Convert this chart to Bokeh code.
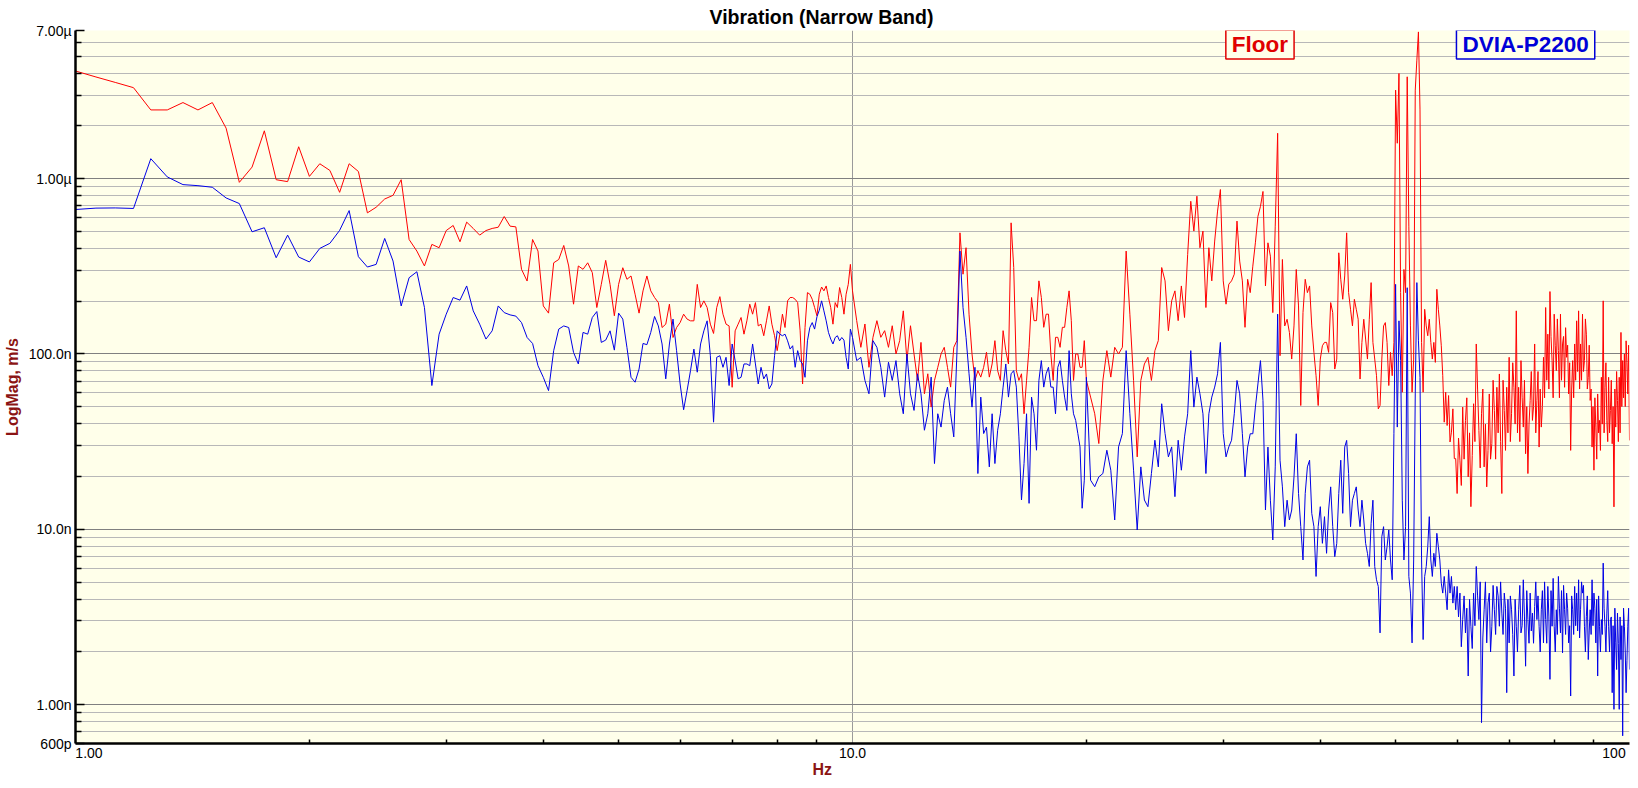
import json
import numpy as np
from bokeh.plotting import figure
from bokeh.models import Range1d, FixedTicker, CustomJSTickFormatter, Label, Title
from bokeh.embed import file_html
from bokeh.resources import INLINE

# ---------------- text ----------------
TITLE = "Vibration (Narrow Band)"
X_LABEL = "Hz"
Y_LABEL = "LogMag, m/s"
SERIES_NAMES = ["Floor", "DVIA-P2200"]

X_TICKS = [1.0, 10.0, 100.0]
X_TICK_LABELS = ["1.00", "10.0", "100"]
Y_TICKS = [6e-10, 1e-9, 1e-8, 1e-7, 1e-6, 7e-6]
Y_TICK_LABELS = ["600p", "1.00n", "10.0n", "100.0n", "1.00\u00b5", "7.00\u00b5"]

# ---------------- data ----------------
# frequency bins of each segment: start (Hz) and bin width (Hz)
SEG_START_HZ = [1.0, 10.125, 20.25, 60.25]
SEG_STEP_HZ = [0.0625, 0.125, 0.25, 0.25]

# magnitudes, as log10 of nm/s
floor_seg1 = [
    3.614, 3.580, 3.549, 3.519, 3.392, 3.392, 3.434, 3.392, 3.434, 3.288, 2.979, 3.066, 3.273, 2.994, 2.983, 3.182,
    3.013, 3.085, 3.047, 2.922, 3.085, 3.041, 2.805, 2.837, 2.884, 2.905, 2.994, 2.653, 2.587, 2.502, 2.625, 2.606,
    2.704, 2.733, 2.640, 2.752, 2.716, 2.678, 2.704, 2.716, 2.723, 2.784, 2.729, 2.725, 2.483, 2.416, 2.653, 2.587,
    2.274, 2.233, 2.520, 2.539, 2.619, 2.502, 2.284, 2.502, 2.483, 2.520, 2.464, 2.265, 2.397, 2.534, 2.397, 2.218,
    2.397, 2.492, 2.426, 2.445, 2.341, 2.233, 2.360, 2.445, 2.360, 2.322, 2.293, 2.151, 2.170, 2.284, 2.094, 2.151,
    2.179, 2.227, 2.199, 2.189, 2.189, 2.397, 2.265, 2.303, 2.265, 2.170, 2.117, 2.265, 2.327, 2.227, 2.170, 2.160,
    1.810, 2.132, 2.170, 2.208, 2.113, 2.189, 2.284, 2.227, 2.293, 2.160, 2.170, 2.104, 2.189, 2.274, 2.170, 2.104,
    2.019, 2.113, 2.227, 2.151, 2.303, 2.322, 2.322, 2.312, 2.293, 2.132, 1.829, 2.151, 2.350, 2.341, 2.312, 2.265,
    2.218, 2.341, 2.382, 2.360, 2.388, 2.322, 2.265, 2.170, 2.293, 2.265, 2.379, 2.322, 2.227, 2.341, 2.397, 2.511,
    2.360,
]
floor_seg2 = [
    2.190, 2.038, 2.171, 1.924, 2.095, 2.190, 2.095, 2.133,
    2.038, 2.161, 2.000, 2.076, 2.246, 1.962, 2.161, 2.000,
    1.849, 2.066, 1.773, 1.887, 1.697, 1.849, 1.924, 2.000,
    2.038, 1.924, 1.811, 2.038, 2.076, 2.691, 2.455, 2.606,
    2.227, 2.000, 1.849, 1.905, 1.868, 1.924, 2.010, 1.868,
    1.943, 2.076, 1.905, 1.849, 2.133, 2.019, 1.943, 2.748,
    2.493, 1.905, 1.849, 1.887, 1.659, 1.849, 2.038, 2.322,
    2.190, 2.190, 2.417, 2.322, 2.152, 2.227, 2.227, 2.000,
    1.849, 2.095, 2.095, 2.038, 2.152, 2.152, 2.265, 2.360,
    2.190, 1.849, 2.000, 2.000, 1.924, 1.924, 2.076, 1.849,
]
floor_seg3 = [
    1.754, 1.659, 1.489, 1.849, 2.019, 1.868, 2.038, 2.000,
    2.038, 2.587, 2.227, 1.849, 1.413, 1.849, 1.943, 1.981,
    1.849, 2.019, 2.076, 2.493, 2.417, 2.133, 2.303, 2.360,
    2.190, 2.388, 2.208, 2.568, 2.871, 2.701, 2.900, 2.606,
    2.701, 2.265, 2.606, 2.417, 2.644, 2.815, 2.938, 2.417,
    2.284, 2.398, 2.417, 2.455, 2.758, 2.530, 2.417, 2.152,
    2.426, 2.350, 2.501, 2.634, 2.785, 2.842, 2.927, 2.388,
    2.634, 2.558, 2.236, 2.729, 3.259, 1.990, 2.539, 2.160,
    2.198, 2.123, 1.971, 2.160, 2.482, 2.274, 1.706, 2.236,
    2.426, 2.350, 2.388, 2.160, 2.009, 1.876, 1.706, 1.971,
    2.047, 2.066, 2.066, 2.009, 2.293, 2.236, 1.914, 1.971,
    2.577, 2.426, 2.312, 2.445, 2.691, 2.350, 2.255, 2.160,
    2.312, 2.255, 2.198, 1.857, 2.066, 2.198, 2.085, 1.971,
    2.198, 2.407, 2.066, 1.971, 1.876, 1.687, 1.706, 1.971,
    2.160, 2.179, 2.066, 1.820, 2.009, 1.876, 2.066, 3.505,
    3.202, 3.600, 2.350, 1.782, 2.482, 2.350, 3.581, 2.729,
    2.160, 1.782, 1.971, 3.505, 3.676, 3.837, 3.392, 2.066,
    1.782, 2.255, 2.160, 2.104, 2.198, 2.066, 1.971, 2.066,
    1.952, 2.369, 2.255, 2.160, 2.047, 1.876, 1.611, 1.782,
    1.592, 1.763, 1.498, 1.554, 1.687, 1.403, 1.403, 1.204,
]
floor_seg4 = [
    1.52, 1.394, 1.25, 1.697, 1.40, 1.621, 1.75, 1.299,
    1.55, 1.129, 1.42, 1.716, 1.50, 2.057, 1.80, 1.564,
    1.35, 1.659, 1.80, 1.356, 1.60, 1.242, 1.45, 1.772,
    1.40, 1.488, 1.85, 1.678, 1.40, 1.810, 1.55, 1.886,
    1.50, 1.204, 1.85, 1.678, 1.45, 1.810, 1.55, 1.981,
    1.50, 1.659, 1.95, 1.810, 1.60, 2.246, 1.55, 1.810,
    1.50, 1.962, 1.75, 1.583, 1.85, 1.431, 1.70, 1.318,
    1.60, 1.735, 1.90, 1.621, 1.70, 2.057, 1.55, 1.735,
    1.90, 1.469, 1.80, 1.583, 1.70, 1.981, 1.75, 2.265,
    1.85, 2.113, 1.80, 2.356, 2.10, 1.962, 1.75, 2.227,
    2.05, 1.905, 2.20, 2.019, 1.75, 2.227, 1.85, 2.057,
    2.10, 1.810, 2.15, 1.981, 2.05, 1.772, 1.95, 1.450,
    1.80, 1.962, 1.75, 2.057, 1.85, 2.189, 1.90, 2.246,
    1.80, 2.057, 1.85, 2.227, 1.90, 1.962, 2.20, 2.113,
    1.80, 1.867, 2.05, 1.735, 1.80, 1.469, 1.70, 1.337,
    1.75, 1.583, 1.40, 1.772, 1.55, 1.621, 1.45, 1.867,
    1.60, 2.303, 1.55, 1.810, 1.95, 1.621, 1.50, 1.867,
    1.55, 1.678, 1.85, 1.488, 1.70, 1.128, 1.80, 1.583,
    1.90, 1.735, 1.50, 1.867, 1.55, 2.123, 1.70, 1.962,
    1.75, 2.000, 1.70, 2.075, 1.95, 1.772, 2.05, 1.507,
]

dvia_seg1 = [
    2.824, 2.832, 2.833, 2.830, 3.114, 3.010, 2.966, 2.960, 2.951, 2.890, 2.858, 2.697, 2.720, 2.549, 2.678, 2.553,
    2.525, 2.602, 2.631, 2.705, 2.818, 2.555, 2.496, 2.511, 2.659, 2.530, 2.274, 2.435, 2.469, 2.265, 1.820, 2.113,
    2.227, 2.322, 2.307, 2.388, 2.246, 2.170, 2.085, 2.132, 2.274, 2.236, 2.223, 2.216, 2.179, 2.094, 2.060, 1.933,
    1.867, 1.791, 2.019, 2.142, 2.160, 2.151, 2.009, 1.943, 2.123, 2.113, 2.208, 2.242, 2.066, 2.079, 2.132, 2.022,
    2.233, 2.199, 2.038, 1.867, 1.839, 1.914, 2.060, 2.053, 2.123, 2.214, 2.160, 2.057, 1.858, 2.057, 2.199, 2.019,
    1.829, 1.682, 1.791, 1.905, 2.028, 1.896, 2.057, 2.132, 2.189, 1.990, 1.611, 1.981, 1.990, 1.924, 1.981, 1.820,
    2.057, 1.962, 1.858, 1.867, 1.943, 1.943, 1.933, 2.057, 1.943, 1.829, 1.924, 1.858, 1.886, 1.801, 1.829, 1.990,
    2.132, 2.113, 2.104, 2.113, 2.075, 2.028, 2.047, 1.924, 2.019, 1.962, 1.943, 1.867, 2.075, 2.151, 2.179, 2.142,
    2.212, 2.250, 2.303, 2.246, 2.189, 2.123, 2.085, 2.057, 2.094, 2.104, 2.075, 2.094, 2.079, 1.981, 1.914, 2.142,
    2.094,
]
dvia_seg2 = [
    1.962, 1.981, 1.849, 1.773, 2.076, 2.038, 1.924, 1.754,
    1.953, 1.849, 1.962, 1.773, 1.659, 2.000, 1.773, 1.678,
    1.887, 1.773, 1.565, 1.659, 1.868, 1.375, 1.659, 1.583,
    1.735, 1.811, 1.659, 1.527, 2.000, 2.587, 2.265, 2.095,
    1.887, 1.697, 1.924, 1.318, 1.754, 1.546, 1.583, 1.356,
    1.659, 1.375, 1.565, 1.659, 1.811, 1.943, 1.754, 1.887,
    1.905, 1.811, 1.527, 1.167, 1.375, 1.659, 1.148, 1.754,
    1.659, 1.451, 1.849, 1.962, 1.811, 1.887, 1.924, 1.811,
    1.811, 1.659, 1.924, 1.962, 1.849, 1.754, 1.678, 2.019,
    1.773, 1.659, 1.621, 1.546, 1.470, 1.120, 1.280, 1.867,
]
dvia_seg3 = [
    1.280, 1.243, 1.299, 1.318, 1.451, 1.337, 1.053, 1.470,
    1.546, 2.019, 1.659, 1.337, 0.996, 1.356, 1.167, 1.129,
    1.318, 1.508, 1.356, 1.716, 1.546, 1.413, 1.470, 1.186,
    1.508, 1.337, 1.527, 1.659, 2.019, 1.697, 1.868, 1.773,
    1.659, 1.318, 1.659, 1.754, 1.811, 1.887, 2.066, 1.546,
    1.413, 1.470, 1.508, 1.659, 1.849, 1.773, 1.546, 1.299,
    1.469, 1.545, 1.545, 1.697, 1.829, 1.962, 1.735, 1.110,
    1.469, 1.166, 0.939, 1.356, 2.227, 1.394, 1.242, 1.015,
    1.166, 1.053, 1.110, 1.299, 1.545, 1.204, 1.015, 0.825,
    1.204, 1.356, 1.394, 1.091, 1.015, 0.731, 1.015, 1.129,
    0.920, 1.072, 0.863, 1.110, 1.242, 1.015, 0.844, 0.920,
    1.204, 1.394, 1.091, 1.469, 1.507, 1.318, 1.015, 1.166,
    1.204, 1.242, 1.110, 1.015, 1.166, 1.053, 0.920, 0.863,
    0.788, 1.034, 1.166, 0.788, 0.712, 0.674, 0.409, 0.958,
    1.015, 0.825, 0.901, 0.996, 0.825, 0.712, 1.545, 2.397,
    1.583, 2.189, 1.962, 1.166, 0.825, 1.015, 2.378, 0.731,
    0.636, 0.352, 0.825, 1.772, 2.407, 2.075, 1.867, 0.825,
    0.371, 0.731, 0.788, 0.901, 1.072, 0.825, 0.731, 0.863,
    0.788, 0.977, 0.901, 0.825, 0.693, 0.636, 0.731, 0.636,
    0.541, 0.769, 0.636, 0.731, 0.579, 0.674, 0.541, 0.674,
]
dvia_seg4 = [
    0.50, 0.636, 0.33, 0.485, 0.62, 0.409, 0.55, 0.163,
    0.60, 0.447, 0.32, 0.636, 0.45, 0.788, 0.62, 0.485,
    0.70, -0.103, 0.38, 0.541, 0.70, 0.352, 0.58, 0.636,
    0.30, 0.447, 0.68, 0.541, 0.40, 0.674, 0.62, 0.447,
    0.70, 0.522, 0.40, 0.636, 0.55, 0.068, 0.60, 0.352,
    0.62, 0.541, 0.40, 0.163, 0.60, 0.447, 0.30, 0.541,
    0.68, 0.409, 0.45, 0.712, 0.50, 0.219, 0.65, 0.485,
    0.35, 0.636, 0.42, 0.522, 0.35, 0.560, 0.70, 0.485,
    0.62, 0.447, 0.30, 0.541, 0.65, 0.352, 0.70, 0.485,
    0.35, 0.674, 0.50, 0.144, 0.65, 0.447, 0.72, 0.447,
    0.30, 0.541, 0.40, 0.731, 0.55, 0.409, 0.65, 0.295,
    0.68, 0.541, 0.40, 0.636, 0.55, 0.352, 0.45, 0.049,
    0.62, 0.541, 0.40, 0.674, 0.45, 0.636, 0.42, 0.712,
    0.38, 0.541, 0.70, 0.636, 0.68, 0.447, 0.30, 0.504,
    0.62, 0.257, 0.42, 0.541, 0.40, 0.712, 0.45, 0.636,
    0.55, 0.352, 0.60, 0.163, 0.62, 0.447, 0.30, 0.485,
    0.40, 0.807, 0.55, 0.447, 0.30, 0.522, 0.65, 0.447,
    0.30, 0.485, 0.50, 0.068, 0.45, -0.027, 0.55, 0.352,
    0.20, 0.522, 0.35, -0.027, 0.50, 0.257, 0.45, -0.178,
    0.55, 0.447, 0.30, 0.068, 0.25, 0.447, 0.55, 0.200,
]


def spectrum(segments):
    freqs = np.concatenate([start + step * np.arange(len(vals))
                            for start, step, vals in zip(SEG_START_HZ, SEG_STEP_HZ, segments)])
    mags = 1e-9 * 10.0 ** np.concatenate([np.asarray(v, dtype=float) for v in segments])
    return freqs, mags


f_floor, v_floor = spectrum([floor_seg1, floor_seg2, floor_seg3, floor_seg4])
f_dvia, v_dvia = spectrum([dvia_seg1, dvia_seg2, dvia_seg3, dvia_seg4])

# ---------------- style ----------------
BG = "#FFFFEA"
RED = "#FF0000"
BLUE = "#0000E6"
AXIS_RED = "#8B1414"
FONT = "Liberation Sans"
FRAME_W = 1556
PX_PER_DECADE = FRAME_W / 2.0

p = figure(width=1638, height=788, x_axis_type="log", y_axis_type="log",
           x_range=Range1d(X_TICKS[0], X_TICKS[-1]), y_range=Range1d(Y_TICKS[0], Y_TICKS[-1]),
           title=TITLE, output_backend="svg", toolbar_location=None,
           min_border_left=73, min_border_right=9, min_border_top=29, min_border_bottom=45,
           background_fill_color=BG, border_fill_color="white", outline_line_color=None)

p.title.align = "left"
p.title.offset = 634
p.title.standoff = 6
p.title.vertical_align = "bottom"
p.title.text_font = FONT
p.title.text_font_size = "19.5px"
p.title.text_font_style = "bold"
p.title.text_color = "black"

p.line(f_floor, v_floor, line_color=RED, line_width=1)
p.line(f_dvia, v_dvia, line_color=BLUE, line_width=1)


def js_labels(values, labels):
    m = {str(int(round(np.log10(v) * 1000))): lab for v, lab in zip(values, labels)}
    code = ("const m = %s; const k = String(Math.round(Math.log10(tick) * 1000));"
            " return (k in m) ? m[k] : '';" % json.dumps(m))
    return CustomJSTickFormatter(code=code)


# the edge labels of the x axis sit inside the plot span, as in the original
x_label_pos = [X_TICKS[0] * 10 ** (13.5 / PX_PER_DECADE), X_TICKS[1],
               X_TICKS[2] * 10 ** (-15.5 / PX_PER_DECADE)]
x_minor = [m * 10 ** e for e in (0, 1) for m in range(2, 10)]
y_minor = [m * 10.0 ** e for e in range(-10, -5) for m in range(2, 10)
           if Y_TICKS[0] < m * 10.0 ** e < Y_TICKS[-1]]

xa = p.xaxis[0]
xa.ticker = FixedTicker(ticks=x_label_pos, minor_ticks=x_minor)
xa.formatter = js_labels(x_label_pos, X_TICK_LABELS)
ya = p.yaxis[0]
ya.ticker = FixedTicker(ticks=Y_TICKS, minor_ticks=y_minor)
ya.formatter = js_labels(Y_TICKS, Y_TICK_LABELS)

for ax in (xa, ya):
    ax.axis_line_color = "black"
    ax.axis_line_width = 2.5
    ax.major_tick_line_color = "black"
    ax.minor_tick_line_color = "black"
    ax.major_tick_line_width = 1.5
    ax.minor_tick_line_width = 1.5
    ax.major_tick_out = 0
    ax.minor_tick_out = 0
    ax.major_label_text_font = FONT
    ax.major_label_text_font_size = "14px"
    ax.major_label_text_color = "black"
xa.major_tick_line_color = None
xa.major_tick_in = 0
xa.minor_tick_in = 4
xa.major_label_standoff = 4
ya.major_tick_in = 9
ya.minor_tick_in = 6
ya.major_label_standoff = 4

ya.axis_label = Y_LABEL
ya.axis_label_standoff = 5
ya.axis_label_text_font = FONT
ya.axis_label_text_font_size = "16px"
ya.axis_label_text_font_style = "bold"
ya.axis_label_text_color = AXIS_RED

p.add_layout(Title(text=X_LABEL, align="left", offset=737, standoff=0, vertical_align="top",
                   text_font=FONT, text_font_size="16px", text_font_style="bold",
                   text_color=AXIS_RED), "below")

p.xgrid.ticker = FixedTicker(ticks=[X_TICKS[1]])
p.xgrid.grid_line_color = "#9A9A9A"
p.ygrid.ticker = FixedTicker(ticks=Y_TICKS[1:-1], minor_ticks=y_minor)
p.ygrid.grid_line_color = "#808080"
p.ygrid.minor_grid_line_color = "#B8B8B8"


def box_label(**kw):
    for pad in (dict(x=6, y=2), 4):
        try:
            return Label(padding=pad, **kw)
        except Exception:
            continue
    return Label(**kw)


for name, xhz, col in ((SERIES_NAMES[0], 33.45, "#E00000"), (SERIES_NAMES[1], 73.5, "#0000D8")):
    p.add_layout(box_label(x=xhz, y=Y_TICKS[-1], text=name, y_offset=-14, text_align="center",
                           text_baseline="middle", text_font=FONT, text_font_size="22.5px",
                           text_font_style="bold", text_color=col, border_line_color=col,
                           border_line_width=1.5, background_fill_color=BG))

open("out.html", "w").write(file_html(p, INLINE))
